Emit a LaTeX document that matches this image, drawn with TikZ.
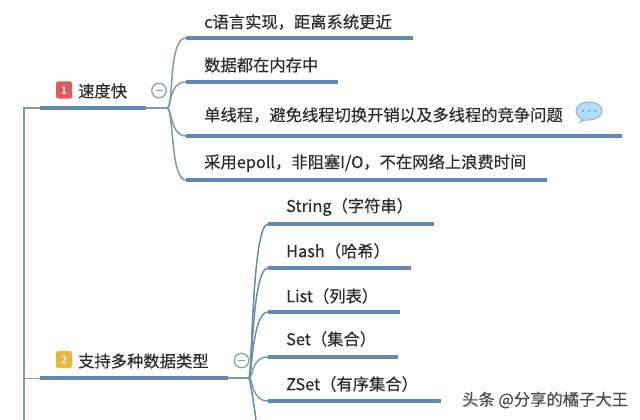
\documentclass[tikz,border=0pt]{standalone}
\usepackage{fontspec}
\setmainfont[FakeBold=0.25]{Noto Sans CJK SC}
\definecolor{thickblue}{HTML}{5F88B5}
\definecolor{branchc}{HTML}{7F9AAE}
\definecolor{rootc}{HTML}{8297B0}
\definecolor{txt}{HTML}{2B2B2B}
\definecolor{foldc}{HTML}{8C9AA3}
\definecolor{badgered}{HTML}{E05A5C}
\definecolor{badgeorange}{HTML}{EDB63F}
\definecolor{bubblefill}{HTML}{B5DCF7}
\definecolor{bubbleline}{HTML}{8FB3CC}
\definecolor{bubbledot}{HTML}{5E8FB5}
\tikzset{
  leaf/.style={anchor=west,inner sep=0pt,text=txt,font=\fontsize{16.3pt}{18pt}\selectfont\addfontfeature{FakeBold=0.25}},
  head/.style={anchor=west,inner sep=0pt,text=txt,font=\fontsize{16.3pt}{18pt}\selectfont\addfontfeature{FakeBold=0.25}},
  bar/.style={draw=thickblue,line width=3.6pt},
  thin/.style={draw=branchc,line width=1.2pt},
  curve/.style={draw=branchc,line width=1.5pt},
  rootline/.style={draw=rootc,line width=1.3pt},
  fold/.style={circle,draw=foldc,fill=white,line width=1.2pt,minimum size=14.5pt,inner sep=0pt},
  badge/.style={rounded corners=1.5pt,minimum width=16pt,minimum height=17pt,inner sep=0pt,text=white,font=\fontsize{10pt}{10pt}\selectfont}
}
\begin{document}
\begin{tikzpicture}[x=1pt,y=-1pt]
\useasboundingbox (0,0) rectangle (640,420);
\fill[white] (0,0) rectangle (640,420);
% anchors
\coordinate (rt) at (24,108);
\coordinate (rb) at (24,420);
\coordinate (a0) at (40,108);
\coordinate (a1) at (146,108);
\coordinate (a2) at (167,108);
\coordinate (b0) at (40,378);
\coordinate (b1) at (228,378);
\coordinate (b2) at (249,378);
\coordinate (b3) at (24,378);
\coordinate (l1s) at (186,38);  \coordinate (l1e) at (413,38);
\coordinate (l2s) at (186,82);  \coordinate (l2e) at (338,82);
\coordinate (l3s) at (186,136); \coordinate (l3e) at (622,136);
\coordinate (l4s) at (186,180); \coordinate (l4e) at (547,180);
\coordinate (m1s) at (268,224); \coordinate (m1e) at (434,224);
\coordinate (m2s) at (268,268); \coordinate (m2e) at (411,268);
\coordinate (m3s) at (268,312); \coordinate (m3e) at (400,312);
\coordinate (m4s) at (268,357); \coordinate (m4e) at (398,357);
\coordinate (m5s) at (268,401); \coordinate (m5e) at (441,401);
\coordinate (m6e) at (256,420);
% root
\draw[rootline] (rb) -- (rt) -- (a0);
\draw[rootline,line width=1pt] (b3) -- (b0);
% branches 1
\draw[thin] (a1) -- (a2);
\draw[curve] (a2) .. controls (174,108) and (168,38) .. (l1s);
\draw[curve] (a2) .. controls (172,108) and (168,82) .. (l2s);
\draw[curve] (a2) .. controls (172,108) and (170,136) .. (l3s);
\draw[curve] (a2) .. controls (174,108) and (170,180) .. (l4s);
% branches 2
\draw[thin] (b1) -- (b2);
\draw[curve,draw=thickblue!85!branchc] (b2) .. controls (252,378) and (252,224) .. (m1s);
\draw[curve,draw=thickblue!85!branchc] (b2) .. controls (252,378) and (252,268) .. (m2s);
\draw[curve,draw=thickblue!60!branchc] (b2) .. controls (252,378) and (252,312) .. (m3s);
\draw[curve] (b2) .. controls (253,378) and (251,357) .. (m4s);
\draw[curve] (b2) .. controls (253,378) and (251,401) .. (m5s);
\draw[curve,draw=thickblue] (b2) .. controls (251,385) and (254,405) .. (m6e);
% bars
\draw[bar] (a0) -- (a1);
\draw[bar] (b0) -- (b1);
\draw[bar] (l1s) -- (l1e);
\draw[bar] (l2s) -- (l2e);
\draw[bar] (l3s) -- (l3e);
\draw[bar] (l4s) -- (l4e);
\draw[bar] (m1s) -- (m1e);
\draw[bar] (m2s) -- (m2e);
\draw[bar] (m3s) -- (m3e);
\draw[bar] (m4s) -- (m4e);
\draw[bar] (m5s) -- (m5e);
% fold buttons
\node[fold] (f1) at (159,90.5) {};
\draw[foldc,line width=1pt] (155.5,90.5) -- (162.5,90.5);
\node[fold] (f2) at (241.5,360.5) {};
\draw[foldc,line width=1pt] (238,360.5) -- (245,360.5);
% badges
\node[badge,fill=badgered] (bd1) at (64,90) {1};
\node[badge,fill=badgeorange] (bd2) at (64,359.5) {2};
% headings
\node[head] (h1) at (78,91) {速度快};
\node[head] (h2) at (78,361) {支持多种数据类型};
% leaves
\node[leaf] (t1) at (204,22) {c语言实现，距离系统更近};
\node[leaf] (t2) at (204,65) {数据都在内存中};
\node[leaf] (t3) at (204,115) {单线程，避免线程切换开销以及多线程的竞争问题};
\node[leaf] (t4) at (204,163) {采用epoll，非阻塞I/O，不在网络上浪费时间};
\node[leaf] (t5) at (286,207) {String（字符串）};
\node[leaf] (t6) at (286,251) {Hash（哈希）};
\node[leaf] (t7) at (286,296) {List（列表）};
\node[leaf] (t8) at (286,339) {Set（集合）};
\node[leaf] (t9) at (286,384) {ZSet（有序集合）};
% note bubble
\draw[fill=bubblefill,draw=bubbleline,line width=1pt]
  (582.5,119.5) .. controls (577,116) and (576,113) .. (576,111)
  .. controls (576,105) and (582,102) .. (589,102)
  .. controls (597,102) and (602,106) .. (602,111)
  .. controls (602,116) and (596,120) .. (588,120)
  .. controls (586,120) and (585,120) .. (584,120)
  -- (580,122) -- cycle;
\fill[bubbledot] (583,111) circle (1pt) (589,111) circle (1pt) (595,111) circle (1pt);
% watermark
\node[anchor=west,inner sep=0pt,text=black!70,font=\fontsize{16.3pt}{18pt}\selectfont] (wm) at (462,400) {头条 @分享的橘子大王};
\end{tikzpicture}
\end{document}
